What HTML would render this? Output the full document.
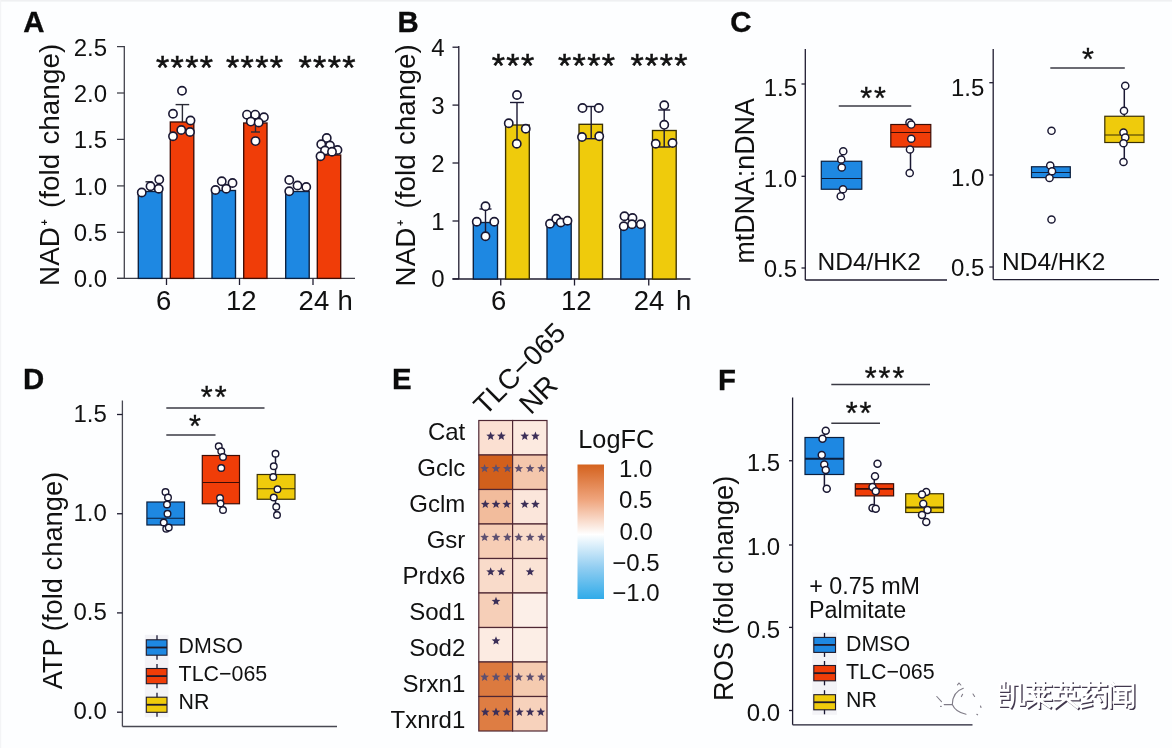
<!DOCTYPE html>
<html><head><meta charset="utf-8"><title>figure</title>
<style>html,body{margin:0;padding:0;background:#fdfeff;overflow:hidden;width:1172px;height:748px}svg{display:block;filter:blur(0.35px)}text{font-family:"Liberation Sans",sans-serif;}</style></head>
<body><svg width="1172" height="748" viewBox="0 0 1172 748">
<rect width="1172" height="748" fill="#fdfeff"/><rect width="1172" height="1.6" fill="#eff0f2"/><rect width="1.2" height="748" fill="#f3f4f6"/>
<text transform="translate(23.3,32.0) scale(0.97,1)" font-size="30.3" font-weight="bold" fill="#0b0b0b" stroke="#0b0b0b" stroke-width="0.35">A</text>
<text transform="translate(58.8,43.8) rotate(-90)" font-size="27.9" text-anchor="end" fill="#111">NAD<tspan font-size="10.5" font-weight="bold" dy="-11" dx="1.5">+</tspan><tspan dy="11" dx="3.6"> (fold</tspan><tspan dx="1.5"> change)</tspan></text>
<line x1="124.3" y1="46" x2="124.3" y2="278.4" stroke="#3c3c46" stroke-width="1.25"/>
<line x1="117" y1="278.4" x2="355" y2="278.4" stroke="#3c3c46" stroke-width="1.25"/>
<line x1="117" y1="46.6" x2="124.3" y2="46.6" stroke="#3c3c46" stroke-width="1.25"/>
<text x="107" y="55.592" font-size="24" text-anchor="end" font-weight="normal" fill="#111" >2.5</text>
<line x1="117" y1="93" x2="124.3" y2="93" stroke="#3c3c46" stroke-width="1.25"/>
<text x="107" y="101.992" font-size="24" text-anchor="end" font-weight="normal" fill="#111" >2.0</text>
<line x1="117" y1="139.4" x2="124.3" y2="139.4" stroke="#3c3c46" stroke-width="1.25"/>
<text x="107" y="148.392" font-size="24" text-anchor="end" font-weight="normal" fill="#111" >1.5</text>
<line x1="117" y1="185.9" x2="124.3" y2="185.9" stroke="#3c3c46" stroke-width="1.25"/>
<text x="107" y="194.892" font-size="24" text-anchor="end" font-weight="normal" fill="#111" >1.0</text>
<line x1="117" y1="232.3" x2="124.3" y2="232.3" stroke="#3c3c46" stroke-width="1.25"/>
<text x="107" y="241.29200000000003" font-size="24" text-anchor="end" font-weight="normal" fill="#111" >0.5</text>
<line x1="117" y1="278.4" x2="124.3" y2="278.4" stroke="#3c3c46" stroke-width="1.25"/>
<text x="107" y="287.39199999999994" font-size="24" text-anchor="end" font-weight="normal" fill="#111" >0.0</text>
<line x1="166.5" y1="278.4" x2="166.5" y2="285" stroke="#1f1c30" stroke-width="1.3"/>
<line x1="239.5" y1="278.4" x2="239.5" y2="285" stroke="#1f1c30" stroke-width="1.3"/>
<line x1="313" y1="278.4" x2="313" y2="285" stroke="#1f1c30" stroke-width="1.3"/>
<text x="163.7" y="310.2" font-size="27.5" text-anchor="middle" font-weight="normal" fill="#111" >6</text>
<text x="241.2" y="310.2" font-size="27.5" text-anchor="middle" font-weight="normal" fill="#111" >12</text>
<text x="298.6" y="310.2" font-size="27.5" text-anchor="start" font-weight="normal" fill="#111" >24</text>
<text x="337.5" y="310.2" font-size="27.5" text-anchor="start" font-weight="normal" fill="#111" >h</text>
<rect x="138.3" y="191.5" width="23.69999999999999" height="86.89999999999998" fill="#1E88E2" stroke="#0c1f3d" stroke-width="1.35"/>
<rect x="170.3" y="122" width="23.5" height="156.39999999999998" fill="#F03D08" stroke="#3d0d06" stroke-width="1.35"/>
<rect x="212" y="190.5" width="23.5" height="87.89999999999998" fill="#1E88E2" stroke="#0c1f3d" stroke-width="1.35"/>
<rect x="243.7" y="123" width="23.30000000000001" height="155.39999999999998" fill="#F03D08" stroke="#3d0d06" stroke-width="1.35"/>
<rect x="285.7" y="191.5" width="23.5" height="86.89999999999998" fill="#1E88E2" stroke="#0c1f3d" stroke-width="1.35"/>
<rect x="317.3" y="155" width="23.399999999999977" height="123.39999999999998" fill="#F03D08" stroke="#3d0d06" stroke-width="1.35"/>
<line x1="182.4" y1="104.6" x2="182.4" y2="122" stroke="#2a2a35" stroke-width="1.4"/>
<line x1="175.6" y1="104.6" x2="189.20000000000002" y2="104.6" stroke="#2a2a35" stroke-width="1.4"/>
<line x1="255.5" y1="114" x2="255.5" y2="132" stroke="#2a2a35" stroke-width="1.4"/>
<line x1="251.0" y1="114" x2="260.0" y2="114" stroke="#2a2a35" stroke-width="1.4"/>
<line x1="251.0" y1="132" x2="260.0" y2="132" stroke="#2a2a35" stroke-width="1.4"/>
<line x1="149" y1="181.8" x2="149" y2="191" stroke="#2a2a35" stroke-width="1.4"/>
<line x1="145.5" y1="181.8" x2="152.5" y2="181.8" stroke="#2a2a35" stroke-width="1.4"/>
<circle cx="182" cy="90.75" r="4.15" fill="#fff" stroke="#1a1833" stroke-width="1.6"/>
<circle cx="173" cy="113.75" r="4.15" fill="#fff" stroke="#1a1833" stroke-width="1.6"/>
<circle cx="190.5" cy="120.5" r="4.15" fill="#fff" stroke="#1a1833" stroke-width="1.6"/>
<circle cx="181.25" cy="130" r="4.15" fill="#fff" stroke="#1a1833" stroke-width="1.6"/>
<circle cx="173" cy="136.25" r="4.15" fill="#fff" stroke="#1a1833" stroke-width="1.6"/>
<circle cx="190" cy="132" r="4.15" fill="#fff" stroke="#1a1833" stroke-width="1.6"/>
<circle cx="247" cy="114.7" r="4.15" fill="#fff" stroke="#1a1833" stroke-width="1.6"/>
<circle cx="255.2" cy="114.7" r="4.15" fill="#fff" stroke="#1a1833" stroke-width="1.6"/>
<circle cx="263.9" cy="117.3" r="4.15" fill="#fff" stroke="#1a1833" stroke-width="1.6"/>
<circle cx="250.8" cy="121.6" r="4.15" fill="#fff" stroke="#1a1833" stroke-width="1.6"/>
<circle cx="258.7" cy="122.5" r="4.15" fill="#fff" stroke="#1a1833" stroke-width="1.6"/>
<circle cx="255.5" cy="141.1" r="4.15" fill="#fff" stroke="#1a1833" stroke-width="1.6"/>
<circle cx="326.75" cy="138" r="4.15" fill="#fff" stroke="#1a1833" stroke-width="1.6"/>
<circle cx="321.25" cy="144.25" r="4.15" fill="#fff" stroke="#1a1833" stroke-width="1.6"/>
<circle cx="330" cy="145.5" r="4.15" fill="#fff" stroke="#1a1833" stroke-width="1.6"/>
<circle cx="337.5" cy="150" r="4.15" fill="#fff" stroke="#1a1833" stroke-width="1.6"/>
<circle cx="325" cy="150.5" r="4.15" fill="#fff" stroke="#1a1833" stroke-width="1.6"/>
<circle cx="320.5" cy="156.25" r="4.15" fill="#fff" stroke="#1a1833" stroke-width="1.6"/>
<circle cx="332" cy="151.75" r="4.15" fill="#fff" stroke="#1a1833" stroke-width="1.6"/>
<circle cx="159.25" cy="179.5" r="4.15" fill="#fff" stroke="#1a1833" stroke-width="1.6"/>
<circle cx="150.5" cy="186.25" r="4.15" fill="#fff" stroke="#1a1833" stroke-width="1.6"/>
<circle cx="141.75" cy="192.5" r="4.15" fill="#fff" stroke="#1a1833" stroke-width="1.6"/>
<circle cx="158.75" cy="188.75" r="4.15" fill="#fff" stroke="#1a1833" stroke-width="1.6"/>
<circle cx="221.75" cy="181.25" r="4.15" fill="#fff" stroke="#1a1833" stroke-width="1.6"/>
<circle cx="232.5" cy="183" r="4.15" fill="#fff" stroke="#1a1833" stroke-width="1.6"/>
<circle cx="215.5" cy="190" r="4.15" fill="#fff" stroke="#1a1833" stroke-width="1.6"/>
<circle cx="226.25" cy="188.75" r="4.15" fill="#fff" stroke="#1a1833" stroke-width="1.6"/>
<circle cx="289.25" cy="180" r="4.15" fill="#fff" stroke="#1a1833" stroke-width="1.6"/>
<circle cx="297.5" cy="185.5" r="4.15" fill="#fff" stroke="#1a1833" stroke-width="1.6"/>
<circle cx="306.25" cy="187" r="4.15" fill="#fff" stroke="#1a1833" stroke-width="1.6"/>
<circle cx="289.25" cy="191.25" r="4.15" fill="#fff" stroke="#1a1833" stroke-width="1.6"/>
<text x="185.2" y="78.9" font-size="34" text-anchor="middle" font-weight="normal" fill="#111" letter-spacing="1.4" stroke="#111" stroke-width="0.5">****</text>
<text x="255.2" y="78.9" font-size="34" text-anchor="middle" font-weight="normal" fill="#111" letter-spacing="1.4" stroke="#111" stroke-width="0.5">****</text>
<text x="327.7" y="78.9" font-size="34" text-anchor="middle" font-weight="normal" fill="#111" letter-spacing="1.4" stroke="#111" stroke-width="0.5">****</text>
<text transform="translate(397.6,32.0) scale(0.97,1)" font-size="30.3" font-weight="bold" fill="#0b0b0b" stroke="#0b0b0b" stroke-width="0.35">B</text>
<text transform="translate(414.9,44.3) rotate(-90)" font-size="27.9" text-anchor="end" fill="#111">NAD<tspan font-size="10.5" font-weight="bold" dy="-11" dx="1.5">+</tspan><tspan dy="11" dx="3.6"> (fold</tspan><tspan dx="1.5"> change)</tspan></text>
<line x1="458.8" y1="46" x2="458.8" y2="279" stroke="#1f1c30" stroke-width="1.3"/>
<line x1="452.5" y1="279" x2="690.5" y2="279" stroke="#1f1c30" stroke-width="1.3"/>
<line x1="452.5" y1="47.2" x2="458.8" y2="47.2" stroke="#1f1c30" stroke-width="1.3"/>
<text x="444.5" y="55.792" font-size="24" text-anchor="end" font-weight="normal" fill="#111" >4</text>
<line x1="452.5" y1="105.1" x2="458.8" y2="105.1" stroke="#1f1c30" stroke-width="1.3"/>
<text x="444.5" y="113.692" font-size="24" text-anchor="end" font-weight="normal" fill="#111" >3</text>
<line x1="452.5" y1="163" x2="458.8" y2="163" stroke="#1f1c30" stroke-width="1.3"/>
<text x="444.5" y="171.59199999999998" font-size="24" text-anchor="end" font-weight="normal" fill="#111" >2</text>
<line x1="452.5" y1="221" x2="458.8" y2="221" stroke="#1f1c30" stroke-width="1.3"/>
<text x="444.5" y="229.59199999999998" font-size="24" text-anchor="end" font-weight="normal" fill="#111" >1</text>
<line x1="452.5" y1="278.9" x2="458.8" y2="278.9" stroke="#1f1c30" stroke-width="1.3"/>
<text x="444.5" y="287.49199999999996" font-size="24" text-anchor="end" font-weight="normal" fill="#111" >0</text>
<line x1="500.75" y1="279" x2="500.75" y2="285.5" stroke="#1f1c30" stroke-width="1.3"/>
<line x1="574.5" y1="279" x2="574.5" y2="285.5" stroke="#1f1c30" stroke-width="1.3"/>
<line x1="648.75" y1="279" x2="648.75" y2="285.5" stroke="#1f1c30" stroke-width="1.3"/>
<text x="498.6" y="310.4" font-size="27.5" text-anchor="middle" font-weight="normal" fill="#111" >6</text>
<text x="576.3" y="310.4" font-size="27.5" text-anchor="middle" font-weight="normal" fill="#111" >12</text>
<text x="633.8" y="310.4" font-size="27.5" text-anchor="start" font-weight="normal" fill="#111" >24</text>
<text x="676" y="310.4" font-size="27.5" text-anchor="start" font-weight="normal" fill="#111" >h</text>
<rect x="473.3" y="222.5" width="24.19999999999999" height="56.5" fill="#1E88E2" stroke="#0c1f3d" stroke-width="1.35"/>
<rect x="505.6" y="125" width="23.699999999999932" height="154" fill="#EFCB0C" stroke="#3a3004" stroke-width="1.35"/>
<rect x="547" y="223.7" width="24.200000000000045" height="55.30000000000001" fill="#1E88E2" stroke="#0c1f3d" stroke-width="1.35"/>
<rect x="579" y="124.3" width="23.5" height="154.7" fill="#EFCB0C" stroke="#3a3004" stroke-width="1.35"/>
<rect x="620.8" y="225" width="24.200000000000045" height="54" fill="#1E88E2" stroke="#0c1f3d" stroke-width="1.35"/>
<rect x="652.5" y="130.5" width="23.700000000000045" height="148.5" fill="#EFCB0C" stroke="#3a3004" stroke-width="1.35"/>
<line x1="517" y1="102.5" x2="517" y2="146" stroke="#1a1833" stroke-width="1.4"/>
<line x1="510" y1="102.5" x2="524" y2="102.5" stroke="#1a1833" stroke-width="1.4"/>
<line x1="591.2" y1="106.5" x2="591.2" y2="138.7" stroke="#1a1833" stroke-width="1.4"/>
<line x1="585.2" y1="106.5" x2="597.2" y2="106.5" stroke="#1a1833" stroke-width="1.4"/>
<line x1="585.2" y1="138.7" x2="597.2" y2="138.7" stroke="#1a1833" stroke-width="1.4"/>
<line x1="664.2" y1="110" x2="664.2" y2="147" stroke="#1a1833" stroke-width="1.4"/>
<line x1="658.2" y1="110" x2="670.2" y2="110" stroke="#1a1833" stroke-width="1.4"/>
<line x1="658.2" y1="147" x2="670.2" y2="147" stroke="#1a1833" stroke-width="1.4"/>
<line x1="485.5" y1="209" x2="485.5" y2="235" stroke="#1a1833" stroke-width="1.4"/>
<line x1="479.5" y1="209" x2="491.5" y2="209" stroke="#1a1833" stroke-width="1.4"/>
<circle cx="517" cy="95" r="4.15" fill="#fff" stroke="#1a1833" stroke-width="1.6"/>
<circle cx="508.75" cy="123.25" r="4.15" fill="#fff" stroke="#1a1833" stroke-width="1.6"/>
<circle cx="525.75" cy="128.75" r="4.15" fill="#fff" stroke="#1a1833" stroke-width="1.6"/>
<circle cx="516.75" cy="143.75" r="4.15" fill="#fff" stroke="#1a1833" stroke-width="1.6"/>
<circle cx="582.5" cy="108" r="4.15" fill="#fff" stroke="#1a1833" stroke-width="1.6"/>
<circle cx="598.75" cy="108" r="4.15" fill="#fff" stroke="#1a1833" stroke-width="1.6"/>
<circle cx="582" cy="137" r="4.15" fill="#fff" stroke="#1a1833" stroke-width="1.6"/>
<circle cx="599.25" cy="136.25" r="4.15" fill="#fff" stroke="#1a1833" stroke-width="1.6"/>
<circle cx="664.25" cy="105.3" r="4.15" fill="#fff" stroke="#1a1833" stroke-width="1.6"/>
<circle cx="664.25" cy="124.8" r="4.15" fill="#fff" stroke="#1a1833" stroke-width="1.6"/>
<circle cx="655.75" cy="143.75" r="4.15" fill="#fff" stroke="#1a1833" stroke-width="1.6"/>
<circle cx="672.5" cy="143" r="4.15" fill="#fff" stroke="#1a1833" stroke-width="1.6"/>
<circle cx="485.5" cy="206.25" r="4.15" fill="#fff" stroke="#1a1833" stroke-width="1.6"/>
<circle cx="476.75" cy="221.75" r="4.15" fill="#fff" stroke="#1a1833" stroke-width="1.6"/>
<circle cx="494.25" cy="221.75" r="4.15" fill="#fff" stroke="#1a1833" stroke-width="1.6"/>
<circle cx="485.5" cy="236.25" r="4.15" fill="#fff" stroke="#1a1833" stroke-width="1.6"/>
<circle cx="550" cy="223.75" r="4.15" fill="#fff" stroke="#1a1833" stroke-width="1.6"/>
<circle cx="556.25" cy="218.75" r="4.15" fill="#fff" stroke="#1a1833" stroke-width="1.6"/>
<circle cx="560.75" cy="222.5" r="4.15" fill="#fff" stroke="#1a1833" stroke-width="1.6"/>
<circle cx="567.5" cy="220.75" r="4.15" fill="#fff" stroke="#1a1833" stroke-width="1.6"/>
<circle cx="624.5" cy="216.25" r="4.15" fill="#fff" stroke="#1a1833" stroke-width="1.6"/>
<circle cx="632.5" cy="218" r="4.15" fill="#fff" stroke="#1a1833" stroke-width="1.6"/>
<circle cx="623.75" cy="226.25" r="4.15" fill="#fff" stroke="#1a1833" stroke-width="1.6"/>
<circle cx="632" cy="224.25" r="4.15" fill="#fff" stroke="#1a1833" stroke-width="1.6"/>
<circle cx="640.75" cy="224.25" r="4.15" fill="#fff" stroke="#1a1833" stroke-width="1.6"/>
<text x="513.7" y="77" font-size="34" text-anchor="middle" font-weight="normal" fill="#111" letter-spacing="1.4" stroke="#111" stroke-width="0.5">***</text>
<text x="587.2" y="77" font-size="34" text-anchor="middle" font-weight="normal" fill="#111" letter-spacing="1.4" stroke="#111" stroke-width="0.5">****</text>
<text x="659.7" y="77" font-size="34" text-anchor="middle" font-weight="normal" fill="#111" letter-spacing="1.4" stroke="#111" stroke-width="0.5">****</text>
<text transform="translate(730.3,32.0) scale(0.97,1)" font-size="30.3" font-weight="bold" fill="#0b0b0b" stroke="#0b0b0b" stroke-width="0.35">C</text>
<text transform="translate(754,263.5) rotate(-90)" font-size="26.8" text-anchor="start" fill="#111">mtDNA:nDNA</text>
<line x1="805.3" y1="49" x2="805.3" y2="280" stroke="#1f1c30" stroke-width="1.3"/>
<line x1="805.3" y1="280" x2="947" y2="280" stroke="#1f1c30" stroke-width="1.3"/>
<line x1="801.5" y1="84" x2="805.3" y2="84" stroke="#1f1c30" stroke-width="1.3"/>
<text x="797" y="95.592" font-size="24" text-anchor="end" font-weight="normal" fill="#111" >1.5</text>
<line x1="801.5" y1="176.3" x2="805.3" y2="176.3" stroke="#1f1c30" stroke-width="1.3"/>
<text x="797" y="187.192" font-size="24" text-anchor="end" font-weight="normal" fill="#111" >1.0</text>
<line x1="801.5" y1="268" x2="805.3" y2="268" stroke="#1f1c30" stroke-width="1.3"/>
<text x="797" y="277.192" font-size="24" text-anchor="end" font-weight="normal" fill="#111" >0.5</text>
<line x1="841.8" y1="151" x2="841.8" y2="196" stroke="#1a1833" stroke-width="1.5"/>
<rect x="821.3" y="161.25" width="40.5" height="28.0" fill="#1E88E2" stroke="#0c1f3d" stroke-width="1.2"/>
<line x1="821.3" y1="178.5" x2="861.8" y2="178.5" stroke="#0c1f3d" stroke-width="1.2"/>
<line x1="910.5" y1="122" x2="910.5" y2="173" stroke="#1a1833" stroke-width="1.5"/>
<rect x="890.8" y="124.5" width="40.0" height="22.5" fill="#F03D08" stroke="#3d0d06" stroke-width="1.2"/>
<line x1="890.8" y1="132.5" x2="930.8" y2="132.5" stroke="#3d0d06" stroke-width="1.2"/>
<circle cx="843.25" cy="151.25" r="3.6" fill="#fff" stroke="#1a1833" stroke-width="1.45"/>
<circle cx="841.25" cy="159.5" r="3.6" fill="#fff" stroke="#1a1833" stroke-width="1.45"/>
<circle cx="841.75" cy="167.5" r="3.6" fill="#fff" stroke="#1a1833" stroke-width="1.45"/>
<circle cx="843" cy="189.25" r="3.6" fill="#fff" stroke="#1a1833" stroke-width="1.45"/>
<circle cx="840.75" cy="196.25" r="3.6" fill="#fff" stroke="#1a1833" stroke-width="1.45"/>
<circle cx="909.5" cy="122.5" r="3.6" fill="#fff" stroke="#1a1833" stroke-width="1.45"/>
<circle cx="911.25" cy="124.5" r="3.6" fill="#fff" stroke="#1a1833" stroke-width="1.45"/>
<circle cx="911.25" cy="138.75" r="3.6" fill="#fff" stroke="#1a1833" stroke-width="1.45"/>
<circle cx="910" cy="149.5" r="3.6" fill="#fff" stroke="#1a1833" stroke-width="1.45"/>
<circle cx="909.7" cy="173" r="3.6" fill="#fff" stroke="#1a1833" stroke-width="1.45"/>
<line x1="838.75" y1="106" x2="911.25" y2="106" stroke="#3a3a44" stroke-width="1.4"/>
<text x="874.0" y="109.2" font-size="30.5" text-anchor="middle" font-weight="normal" fill="#111" letter-spacing="2" stroke="#111" stroke-width="0.35">**</text>
<text x="817.5" y="269.8" font-size="24.5" text-anchor="start" font-weight="normal" fill="#111" >ND4/HK2</text>
<line x1="993.2" y1="49" x2="993.2" y2="279.6" stroke="#1f1c30" stroke-width="1.3"/>
<line x1="993.2" y1="279.6" x2="1159" y2="279.6" stroke="#1f1c30" stroke-width="1.3"/>
<line x1="989.3" y1="82.7" x2="993.2" y2="82.7" stroke="#1f1c30" stroke-width="1.3"/>
<text x="984.3" y="95.592" font-size="24" text-anchor="end" font-weight="normal" fill="#111" >1.5</text>
<line x1="989.3" y1="175" x2="993.2" y2="175" stroke="#1f1c30" stroke-width="1.3"/>
<text x="984.3" y="185.892" font-size="24" text-anchor="end" font-weight="normal" fill="#111" >1.0</text>
<line x1="989.3" y1="267" x2="993.2" y2="267" stroke="#1f1c30" stroke-width="1.3"/>
<text x="984.3" y="276.092" font-size="24" text-anchor="end" font-weight="normal" fill="#111" >0.5</text>
<rect x="1031.5" y="166.75" width="38.799999999999955" height="10.849999999999994" fill="#1E88E2" stroke="#0c1f3d" stroke-width="1.2"/>
<line x1="1031.5" y1="172.5" x2="1070.3" y2="172.5" stroke="#0c1f3d" stroke-width="1.2"/>
<line x1="1124.3" y1="86" x2="1124.3" y2="162" stroke="#1a1833" stroke-width="1.5"/>
<rect x="1104.8" y="116.25" width="39.200000000000045" height="26.25" fill="#EFCB0C" stroke="#3a3004" stroke-width="1.2"/>
<line x1="1104.8" y1="135" x2="1144" y2="135" stroke="#3a3004" stroke-width="1.2"/>
<circle cx="1051.5" cy="130.75" r="3.6" fill="#fff" stroke="#1a1833" stroke-width="1.45"/>
<circle cx="1050.25" cy="165.5" r="3.6" fill="#fff" stroke="#1a1833" stroke-width="1.45"/>
<circle cx="1052" cy="171.25" r="3.6" fill="#fff" stroke="#1a1833" stroke-width="1.45"/>
<circle cx="1049.5" cy="178" r="3.6" fill="#fff" stroke="#1a1833" stroke-width="1.45"/>
<circle cx="1051.5" cy="219.5" r="3.6" fill="#fff" stroke="#1a1833" stroke-width="1.45"/>
<circle cx="1125.25" cy="85.75" r="3.6" fill="#fff" stroke="#1a1833" stroke-width="1.45"/>
<circle cx="1124" cy="110.75" r="3.6" fill="#fff" stroke="#1a1833" stroke-width="1.45"/>
<circle cx="1123.5" cy="132.5" r="3.6" fill="#fff" stroke="#1a1833" stroke-width="1.45"/>
<circle cx="1125.25" cy="137.5" r="3.6" fill="#fff" stroke="#1a1833" stroke-width="1.45"/>
<circle cx="1123.5" cy="143.25" r="3.6" fill="#fff" stroke="#1a1833" stroke-width="1.45"/>
<circle cx="1123.5" cy="162" r="3.6" fill="#fff" stroke="#1a1833" stroke-width="1.45"/>
<line x1="1050.3" y1="68" x2="1124.8" y2="68" stroke="#3a3a44" stroke-width="1.4"/>
<text x="1088.3" y="70" font-size="30.5" text-anchor="middle" font-weight="normal" fill="#111" letter-spacing="0.6" stroke="#111" stroke-width="0.35">*</text>
<text x="1002" y="269.8" font-size="24.5" text-anchor="start" font-weight="normal" fill="#111" >ND4/HK2</text>
<text transform="translate(22.9,389.0) scale(0.97,1)" font-size="30.3" font-weight="bold" fill="#0b0b0b" stroke="#0b0b0b" stroke-width="0.35">D</text>
<text transform="translate(62,471.8) rotate(-90)" font-size="27.3" text-anchor="end" fill="#111">ATP (fold change)</text>
<line x1="122.4" y1="400.5" x2="122.4" y2="726.5" stroke="#484852" stroke-width="1.3"/>
<line x1="122.4" y1="726.5" x2="337" y2="726.5" stroke="#484852" stroke-width="1.3"/>
<line x1="117" y1="414.5" x2="122.4" y2="414.5" stroke="#1f1c30" stroke-width="1.3"/>
<text x="106.9" y="421.692" font-size="24" text-anchor="end" font-weight="normal" fill="#111" >1.5</text>
<line x1="117" y1="513.75" x2="122.4" y2="513.75" stroke="#1f1c30" stroke-width="1.3"/>
<text x="106.9" y="520.942" font-size="24" text-anchor="end" font-weight="normal" fill="#111" >1.0</text>
<line x1="117" y1="612.9" x2="122.4" y2="612.9" stroke="#1f1c30" stroke-width="1.3"/>
<text x="106.9" y="620.092" font-size="24" text-anchor="end" font-weight="normal" fill="#111" >0.5</text>
<line x1="117" y1="712.2" x2="122.4" y2="712.2" stroke="#1f1c30" stroke-width="1.3"/>
<text x="106.9" y="719.392" font-size="24" text-anchor="end" font-weight="normal" fill="#111" >0.0</text>
<line x1="167" y1="492" x2="167" y2="528" stroke="#1a1833" stroke-width="1.5"/>
<rect x="146.9" y="502" width="37.599999999999994" height="23" fill="#1E88E2" stroke="#0c1f3d" stroke-width="1.2"/>
<line x1="146.9" y1="518.25" x2="184.5" y2="518.25" stroke="#0c1f3d" stroke-width="1.2"/>
<line x1="221" y1="446" x2="221" y2="510" stroke="#1a1833" stroke-width="1.5"/>
<rect x="202.3" y="455.5" width="37.19999999999999" height="48.25" fill="#F03D08" stroke="#3d0d06" stroke-width="1.2"/>
<line x1="202.3" y1="482.5" x2="239.5" y2="482.5" stroke="#3d0d06" stroke-width="1.2"/>
<line x1="275.5" y1="454" x2="275.5" y2="515" stroke="#1a1833" stroke-width="1.5"/>
<rect x="257.2" y="474.5" width="37.80000000000001" height="24.75" fill="#EFCB0C" stroke="#3a3004" stroke-width="1.2"/>
<line x1="257.2" y1="488.75" x2="295" y2="488.75" stroke="#3a3004" stroke-width="1.2"/>
<circle cx="165.5" cy="492" r="3.3" fill="#fff" stroke="#1a1833" stroke-width="1.4"/>
<circle cx="168" cy="497.5" r="3.3" fill="#fff" stroke="#1a1833" stroke-width="1.4"/>
<circle cx="167" cy="504.5" r="3.3" fill="#fff" stroke="#1a1833" stroke-width="1.4"/>
<circle cx="167.5" cy="513.75" r="3.3" fill="#fff" stroke="#1a1833" stroke-width="1.4"/>
<circle cx="163.75" cy="522.5" r="3.3" fill="#fff" stroke="#1a1833" stroke-width="1.4"/>
<circle cx="166.25" cy="528.75" r="3.3" fill="#fff" stroke="#1a1833" stroke-width="1.4"/>
<circle cx="168.75" cy="527.5" r="3.3" fill="#fff" stroke="#1a1833" stroke-width="1.4"/>
<circle cx="218.75" cy="446.25" r="3.3" fill="#fff" stroke="#1a1833" stroke-width="1.4"/>
<circle cx="221.25" cy="451.25" r="3.3" fill="#fff" stroke="#1a1833" stroke-width="1.4"/>
<circle cx="223" cy="457" r="3.3" fill="#fff" stroke="#1a1833" stroke-width="1.4"/>
<circle cx="221.25" cy="468" r="3.3" fill="#fff" stroke="#1a1833" stroke-width="1.4"/>
<circle cx="220" cy="498" r="3.3" fill="#fff" stroke="#1a1833" stroke-width="1.4"/>
<circle cx="220.5" cy="503.5" r="3.3" fill="#fff" stroke="#1a1833" stroke-width="1.4"/>
<circle cx="223" cy="510" r="3.3" fill="#fff" stroke="#1a1833" stroke-width="1.4"/>
<circle cx="275.5" cy="453.75" r="3.3" fill="#fff" stroke="#1a1833" stroke-width="1.4"/>
<circle cx="273.75" cy="466.25" r="3.3" fill="#fff" stroke="#1a1833" stroke-width="1.4"/>
<circle cx="273.25" cy="477" r="3.3" fill="#fff" stroke="#1a1833" stroke-width="1.4"/>
<circle cx="277.5" cy="489.25" r="3.3" fill="#fff" stroke="#1a1833" stroke-width="1.4"/>
<circle cx="273.75" cy="497.5" r="3.3" fill="#fff" stroke="#1a1833" stroke-width="1.4"/>
<circle cx="276.25" cy="506.75" r="3.3" fill="#fff" stroke="#1a1833" stroke-width="1.4"/>
<circle cx="277" cy="515" r="3.3" fill="#fff" stroke="#1a1833" stroke-width="1.4"/>
<line x1="166.3" y1="408" x2="264.5" y2="408" stroke="#3a3a44" stroke-width="1.4"/>
<text x="214.7" y="408" font-size="30.5" text-anchor="middle" font-weight="normal" fill="#111" letter-spacing="2" stroke="#111" stroke-width="0.35">**</text>
<line x1="166.3" y1="435" x2="215.5" y2="435" stroke="#3a3a44" stroke-width="1.4"/>
<text x="195.3" y="437.3" font-size="30.5" text-anchor="middle" font-weight="normal" fill="#111" letter-spacing="0.6" stroke="#111" stroke-width="0.35">*</text>
<rect x="144.8" y="634.8" width="23.69999999999999" height="82.5" fill="#f3f3f7"/>
<line x1="157" y1="635.3" x2="157" y2="659.7" stroke="#1a1833" stroke-width="1.3"/>
<rect x="146.3" y="639.8" width="20.69999999999999" height="15.400000000000091" fill="#1E88E2" stroke="#1f1a2a" stroke-width="1.1"/>
<line x1="146.3" y1="647.5" x2="167" y2="647.5" stroke="#1f1a2a" stroke-width="1.8"/>
<text transform="translate(178.6,653) scale(0.955,1)" font-size="22.41" fill="#111">DMSO</text>
<line x1="157" y1="664.0" x2="157" y2="688.2" stroke="#1a1833" stroke-width="1.3"/>
<rect x="146.3" y="668.5" width="20.69999999999999" height="15.200000000000045" fill="#F03D08" stroke="#1f1a2a" stroke-width="1.1"/>
<line x1="146.3" y1="676.1" x2="167" y2="676.1" stroke="#1f1a2a" stroke-width="1.8"/>
<text transform="translate(178.6,680.8) scale(0.955,1)" font-size="22.41" fill="#111">TLC−065</text>
<line x1="157" y1="692.7" x2="157" y2="716.8" stroke="#1a1833" stroke-width="1.3"/>
<rect x="146.3" y="697.2" width="20.69999999999999" height="15.099999999999909" fill="#EFCB0C" stroke="#1f1a2a" stroke-width="1.1"/>
<line x1="146.3" y1="704.75" x2="167" y2="704.75" stroke="#1f1a2a" stroke-width="1.8"/>
<text transform="translate(178.6,709.3) scale(0.955,1)" font-size="22.41" fill="#111">NR</text>
<text transform="translate(392.1,389.0) scale(0.97,1)" font-size="30.3" font-weight="bold" fill="#0b0b0b" stroke="#0b0b0b" stroke-width="0.35">E</text>
<rect x="478.8" y="420.5" width="33.80000000000001" height="34.5" fill="#FBE0D2" stroke="#4f2733" stroke-width="1.2"/>
<rect x="512.6" y="420.5" width="34.39999999999998" height="34.5" fill="#FCEAE0" stroke="#4f2733" stroke-width="1.2"/>
<text x="465.3" y="439.5" font-size="24" text-anchor="end" font-weight="normal" fill="#111" >Cat</text>
<polygon points="490.65,431.60 491.83,434.58 495.02,434.78 492.55,436.82 493.35,439.92 490.65,438.20 487.95,439.92 488.75,436.82 486.28,434.78 489.47,434.58" fill="#3c2f58"/>
<polygon points="501.35,431.60 502.53,434.58 505.72,434.78 503.25,436.82 504.05,439.92 501.35,438.20 498.65,439.92 499.45,436.82 496.98,434.78 500.17,434.58" fill="#3c2f58"/>
<polygon points="524.75,431.60 525.93,434.58 529.12,434.78 526.65,436.82 527.45,439.92 524.75,438.20 522.05,439.92 522.85,436.82 520.38,434.78 523.57,434.58" fill="#3c2f58"/>
<polygon points="535.45,431.60 536.63,434.58 539.82,434.78 537.35,436.82 538.15,439.92 535.45,438.20 532.75,439.92 533.55,436.82 531.08,434.78 534.27,434.58" fill="#3c2f58"/>
<rect x="478.8" y="455.0" width="33.80000000000001" height="34.5" fill="#D2601C" stroke="#4f2733" stroke-width="1.2"/>
<rect x="512.6" y="455.0" width="34.39999999999998" height="34.5" fill="#F4C7AC" stroke="#4f2733" stroke-width="1.2"/>
<text x="465.3" y="475.6" font-size="24" text-anchor="end" font-weight="normal" fill="#111" >Gclc</text>
<polygon points="484.60,464.00 485.78,466.98 488.97,467.18 486.50,469.22 487.30,472.32 484.60,470.60 481.90,472.32 482.70,469.22 480.23,467.18 483.42,466.98" fill="#5d4f70"/>
<polygon points="496.00,464.00 497.18,466.98 500.37,467.18 497.90,469.22 498.70,472.32 496.00,470.60 493.30,472.32 494.10,469.22 491.63,467.18 494.82,466.98" fill="#5d4f70"/>
<polygon points="507.40,464.00 508.58,466.98 511.77,467.18 509.30,469.22 510.10,472.32 507.40,470.60 504.70,472.32 505.50,469.22 503.03,467.18 506.22,466.98" fill="#5d4f70"/>
<polygon points="518.70,464.00 519.88,466.98 523.07,467.18 520.60,469.22 521.40,472.32 518.70,470.60 516.00,472.32 516.80,469.22 514.33,467.18 517.52,466.98" fill="#5d4f70"/>
<polygon points="530.10,464.00 531.28,466.98 534.47,467.18 532.00,469.22 532.80,472.32 530.10,470.60 527.40,472.32 528.20,469.22 525.73,467.18 528.92,466.98" fill="#5d4f70"/>
<polygon points="541.50,464.00 542.68,466.98 545.87,467.18 543.40,469.22 544.20,472.32 541.50,470.60 538.80,472.32 539.60,469.22 537.13,467.18 540.32,466.98" fill="#5d4f70"/>
<rect x="478.8" y="489.5" width="33.80000000000001" height="34.5" fill="#F2BC9C" stroke="#4f2733" stroke-width="1.2"/>
<rect x="512.6" y="489.5" width="34.39999999999998" height="34.5" fill="#FBE6DB" stroke="#4f2733" stroke-width="1.2"/>
<text x="465.3" y="511.7" font-size="24" text-anchor="end" font-weight="normal" fill="#111" >Gclm</text>
<polygon points="485.30,499.70 486.48,502.68 489.67,502.88 487.20,504.92 488.00,508.02 485.30,506.30 482.60,508.02 483.40,504.92 480.93,502.88 484.12,502.68" fill="#3c2f58"/>
<polygon points="496.00,499.70 497.18,502.68 500.37,502.88 497.90,504.92 498.70,508.02 496.00,506.30 493.30,508.02 494.10,504.92 491.63,502.88 494.82,502.68" fill="#3c2f58"/>
<polygon points="506.70,499.70 507.88,502.68 511.07,502.88 508.60,504.92 509.40,508.02 506.70,506.30 504.00,508.02 504.80,504.92 502.33,502.88 505.52,502.68" fill="#3c2f58"/>
<polygon points="524.75,499.70 525.93,502.68 529.12,502.88 526.65,504.92 527.45,508.02 524.75,506.30 522.05,508.02 522.85,504.92 520.38,502.88 523.57,502.68" fill="#3c2f58"/>
<polygon points="535.45,499.70 536.63,502.68 539.82,502.88 537.35,504.92 538.15,508.02 535.45,506.30 532.75,508.02 533.55,504.92 531.08,502.88 534.27,502.68" fill="#3c2f58"/>
<rect x="478.8" y="524.0" width="33.80000000000001" height="34.5" fill="#F6CDB5" stroke="#4f2733" stroke-width="1.2"/>
<rect x="512.6" y="524.0" width="34.39999999999998" height="34.5" fill="#F9DCCB" stroke="#4f2733" stroke-width="1.2"/>
<text x="465.3" y="547.8" font-size="24" text-anchor="end" font-weight="normal" fill="#111" >Gsr</text>
<polygon points="484.60,532.80 485.78,535.78 488.97,535.98 486.50,538.02 487.30,541.12 484.60,539.40 481.90,541.12 482.70,538.02 480.23,535.98 483.42,535.78" fill="#5d4f70"/>
<polygon points="496.00,532.80 497.18,535.78 500.37,535.98 497.90,538.02 498.70,541.12 496.00,539.40 493.30,541.12 494.10,538.02 491.63,535.98 494.82,535.78" fill="#5d4f70"/>
<polygon points="507.40,532.80 508.58,535.78 511.77,535.98 509.30,538.02 510.10,541.12 507.40,539.40 504.70,541.12 505.50,538.02 503.03,535.98 506.22,535.78" fill="#5d4f70"/>
<polygon points="518.70,532.80 519.88,535.78 523.07,535.98 520.60,538.02 521.40,541.12 518.70,539.40 516.00,541.12 516.80,538.02 514.33,535.98 517.52,535.78" fill="#5d4f70"/>
<polygon points="530.10,532.80 531.28,535.78 534.47,535.98 532.00,538.02 532.80,541.12 530.10,539.40 527.40,541.12 528.20,538.02 525.73,535.98 528.92,535.78" fill="#5d4f70"/>
<polygon points="541.50,532.80 542.68,535.78 545.87,535.98 543.40,538.02 544.20,541.12 541.50,539.40 538.80,541.12 539.60,538.02 537.13,535.98 540.32,535.78" fill="#5d4f70"/>
<rect x="478.8" y="558.5" width="33.80000000000001" height="34.5" fill="#F9DBCA" stroke="#4f2733" stroke-width="1.2"/>
<rect x="512.6" y="558.5" width="34.39999999999998" height="34.5" fill="#FAE3D5" stroke="#4f2733" stroke-width="1.2"/>
<text x="465.3" y="583.9" font-size="24" text-anchor="end" font-weight="normal" fill="#111" >Prdx6</text>
<polygon points="490.65,567.30 491.83,570.28 495.02,570.48 492.55,572.52 493.35,575.62 490.65,573.90 487.95,575.62 488.75,572.52 486.28,570.48 489.47,570.28" fill="#3c2f58"/>
<polygon points="501.35,567.30 502.53,570.28 505.72,570.48 503.25,572.52 504.05,575.62 501.35,573.90 498.65,575.62 499.45,572.52 496.98,570.48 500.17,570.28" fill="#3c2f58"/>
<polygon points="530.10,567.30 531.28,570.28 534.47,570.48 532.00,572.52 532.80,575.62 530.10,573.90 527.40,575.62 528.20,572.52 525.73,570.48 528.92,570.28" fill="#3c2f58"/>
<rect x="478.8" y="593.0" width="33.80000000000001" height="34.5" fill="#F6CFB8" stroke="#4f2733" stroke-width="1.2"/>
<rect x="512.6" y="593.0" width="34.39999999999998" height="34.5" fill="#FCEFE8" stroke="#4f2733" stroke-width="1.2"/>
<text x="465.3" y="620.0" font-size="24" text-anchor="end" font-weight="normal" fill="#111" >Sod1</text>
<polygon points="496.00,596.80 497.18,599.78 500.37,599.98 497.90,602.02 498.70,605.12 496.00,603.40 493.30,605.12 494.10,602.02 491.63,599.98 494.82,599.78" fill="#3c2f58"/>
<rect x="478.8" y="627.5" width="33.80000000000001" height="34.5" fill="#FCEBE2" stroke="#4f2733" stroke-width="1.2"/>
<rect x="512.6" y="627.5" width="34.39999999999998" height="34.5" fill="#FCEEE6" stroke="#4f2733" stroke-width="1.2"/>
<text x="465.3" y="656.1" font-size="24" text-anchor="end" font-weight="normal" fill="#111" >Sod2</text>
<polygon points="496.00,636.30 497.18,639.28 500.37,639.48 497.90,641.52 498.70,644.62 496.00,642.90 493.30,644.62 494.10,641.52 491.63,639.48 494.82,639.28" fill="#3c2f58"/>
<rect x="478.8" y="662.0" width="33.80000000000001" height="34.5" fill="#DC7A3F" stroke="#4f2733" stroke-width="1.2"/>
<rect x="512.6" y="662.0" width="34.39999999999998" height="34.5" fill="#F5CBB0" stroke="#4f2733" stroke-width="1.2"/>
<text x="465.3" y="692.2" font-size="24" text-anchor="end" font-weight="normal" fill="#111" >Srxn1</text>
<polygon points="484.60,672.60 485.78,675.58 488.97,675.78 486.50,677.82 487.30,680.92 484.60,679.20 481.90,680.92 482.70,677.82 480.23,675.78 483.42,675.58" fill="#5d4f70"/>
<polygon points="496.00,672.60 497.18,675.58 500.37,675.78 497.90,677.82 498.70,680.92 496.00,679.20 493.30,680.92 494.10,677.82 491.63,675.78 494.82,675.58" fill="#5d4f70"/>
<polygon points="507.40,672.60 508.58,675.58 511.77,675.78 509.30,677.82 510.10,680.92 507.40,679.20 504.70,680.92 505.50,677.82 503.03,675.78 506.22,675.58" fill="#5d4f70"/>
<polygon points="518.70,672.60 519.88,675.58 523.07,675.78 520.60,677.82 521.40,680.92 518.70,679.20 516.00,680.92 516.80,677.82 514.33,675.78 517.52,675.58" fill="#5d4f70"/>
<polygon points="530.10,672.60 531.28,675.58 534.47,675.78 532.00,677.82 532.80,680.92 530.10,679.20 527.40,680.92 528.20,677.82 525.73,675.78 528.92,675.58" fill="#5d4f70"/>
<polygon points="541.50,672.60 542.68,675.58 545.87,675.78 543.40,677.82 544.20,680.92 541.50,679.20 538.80,680.92 539.60,677.82 537.13,675.78 540.32,675.58" fill="#5d4f70"/>
<rect x="478.8" y="696.5" width="33.80000000000001" height="34.5" fill="#DE7D43" stroke="#4f2733" stroke-width="1.2"/>
<rect x="512.6" y="696.5" width="34.39999999999998" height="34.5" fill="#F7D2BC" stroke="#4f2733" stroke-width="1.2"/>
<text x="465.3" y="728.3" font-size="24" text-anchor="end" font-weight="normal" fill="#111" >Txnrd1</text>
<polygon points="485.30,707.60 486.48,710.58 489.67,710.78 487.20,712.82 488.00,715.92 485.30,714.20 482.60,715.92 483.40,712.82 480.93,710.78 484.12,710.58" fill="#3c2f58"/>
<polygon points="496.00,707.60 497.18,710.58 500.37,710.78 497.90,712.82 498.70,715.92 496.00,714.20 493.30,715.92 494.10,712.82 491.63,710.78 494.82,710.58" fill="#3c2f58"/>
<polygon points="506.70,707.60 507.88,710.58 511.07,710.78 508.60,712.82 509.40,715.92 506.70,714.20 504.00,715.92 504.80,712.82 502.33,710.78 505.52,710.58" fill="#3c2f58"/>
<polygon points="519.40,707.60 520.58,710.58 523.77,710.78 521.30,712.82 522.10,715.92 519.40,714.20 516.70,715.92 517.50,712.82 515.03,710.78 518.22,710.58" fill="#3c2f58"/>
<polygon points="530.10,707.60 531.28,710.58 534.47,710.78 532.00,712.82 532.80,715.92 530.10,714.20 527.40,715.92 528.20,712.82 525.73,710.78 528.92,710.58" fill="#3c2f58"/>
<polygon points="540.80,707.60 541.98,710.58 545.17,710.78 542.70,712.82 543.50,715.92 540.80,714.20 538.10,715.92 538.90,712.82 536.43,710.78 539.62,710.58" fill="#3c2f58"/>
<text transform="translate(485.2,416.4) rotate(-45)" font-size="28" text-anchor="start" fill="#111">TLC−065</text>
<text transform="translate(530.8,415.6) rotate(-45)" font-size="28" text-anchor="start" fill="#111">NR</text>
<text x="578.3" y="448.2" font-size="25.3" text-anchor="start" font-weight="normal" fill="#111" >LogFC</text>
<defs><linearGradient id="cb" x1="0" y1="0" x2="0" y2="1"><stop offset="0" stop-color="#D4621E"/><stop offset="0.26" stop-color="#EFA47C"/><stop offset="0.52" stop-color="#FFFFFF"/><stop offset="0.77" stop-color="#90CDF1"/><stop offset="1" stop-color="#30ABE9"/></linearGradient></defs>
<rect x="577.5" y="464.5" width="26.5" height="134.5" fill="url(#cb)"/>
<text x="619" y="476.8" font-size="24" text-anchor="start" font-weight="normal" fill="#111" >1.0</text>
<text x="619" y="508.2" font-size="24" text-anchor="start" font-weight="normal" fill="#111" >0.5</text>
<text x="619.5" y="539.6" font-size="24" text-anchor="start" font-weight="normal" fill="#111" >0.0</text>
<text x="612.3" y="570.8" font-size="24" text-anchor="start" font-weight="normal" fill="#111" >−0.5</text>
<text x="612.3" y="601.4" font-size="24" text-anchor="start" font-weight="normal" fill="#111" >−1.0</text>
<text transform="translate(718.1,389.5) scale(0.97,1)" font-size="30.3" font-weight="bold" fill="#0b0b0b" stroke="#0b0b0b" stroke-width="0.35">F</text>
<text transform="translate(733,475.8) rotate(-90)" font-size="27.2" text-anchor="end" fill="#111">ROS (fold change)</text>
<line x1="792.6" y1="397.5" x2="792.6" y2="724.8" stroke="#1f1c30" stroke-width="1.3"/>
<line x1="792.6" y1="724.8" x2="972.5" y2="724.8" stroke="#1f1c30" stroke-width="1.3"/>
<line x1="789" y1="460.75" x2="792.6" y2="460.75" stroke="#1f1c30" stroke-width="1.3"/>
<text x="780.2" y="470.942" font-size="24" text-anchor="end" font-weight="normal" fill="#111" >1.5</text>
<line x1="789" y1="545" x2="792.6" y2="545" stroke="#1f1c30" stroke-width="1.3"/>
<text x="780.2" y="555.192" font-size="24" text-anchor="end" font-weight="normal" fill="#111" >1.0</text>
<line x1="789" y1="627.4" x2="792.6" y2="627.4" stroke="#1f1c30" stroke-width="1.3"/>
<text x="780.2" y="637.592" font-size="24" text-anchor="end" font-weight="normal" fill="#111" >0.5</text>
<line x1="789" y1="710.5" x2="792.6" y2="710.5" stroke="#1f1c30" stroke-width="1.3"/>
<text x="780.2" y="720.692" font-size="24" text-anchor="end" font-weight="normal" fill="#111" >0.0</text>
<line x1="824.4" y1="431" x2="824.4" y2="488.5" stroke="#1a1833" stroke-width="1.5"/>
<rect x="805" y="437.5" width="38.799999999999955" height="37.0" fill="#1E88E2" stroke="#0c1f3d" stroke-width="1.2"/>
<line x1="805" y1="458.75" x2="843.8" y2="458.75" stroke="#0c1f3d" stroke-width="2.2"/>
<line x1="874.3" y1="476" x2="874.3" y2="508" stroke="#1a1833" stroke-width="1.5"/>
<rect x="855.3" y="483.75" width="38.30000000000007" height="12.149999999999977" fill="#F03D08" stroke="#3d0d06" stroke-width="1.2"/>
<line x1="855.3" y1="488.8" x2="893.6" y2="488.8" stroke="#3d0d06" stroke-width="1.8"/>
<line x1="924.5" y1="492" x2="924.5" y2="522" stroke="#1a1833" stroke-width="1.5"/>
<rect x="905.7" y="493.75" width="37.89999999999998" height="18.75" fill="#EFCB0C" stroke="#3a3004" stroke-width="1.2"/>
<line x1="905.7" y1="507.5" x2="943.6" y2="507.5" stroke="#3a3004" stroke-width="1.8"/>
<circle cx="825.75" cy="430.75" r="3.5" fill="#fff" stroke="#1a1833" stroke-width="1.5"/>
<circle cx="822.5" cy="438.75" r="3.5" fill="#fff" stroke="#1a1833" stroke-width="1.5"/>
<circle cx="821.75" cy="455" r="3.5" fill="#fff" stroke="#1a1833" stroke-width="1.5"/>
<circle cx="824.25" cy="464.5" r="3.5" fill="#fff" stroke="#1a1833" stroke-width="1.5"/>
<circle cx="825.75" cy="470" r="3.5" fill="#fff" stroke="#1a1833" stroke-width="1.5"/>
<circle cx="826.75" cy="488.75" r="3.5" fill="#fff" stroke="#1a1833" stroke-width="1.5"/>
<circle cx="877.5" cy="463.75" r="3.5" fill="#fff" stroke="#1a1833" stroke-width="1.5"/>
<circle cx="875" cy="476.25" r="3.5" fill="#fff" stroke="#1a1833" stroke-width="1.5"/>
<circle cx="872.5" cy="487" r="3.5" fill="#fff" stroke="#1a1833" stroke-width="1.5"/>
<circle cx="875.75" cy="491.25" r="3.5" fill="#fff" stroke="#1a1833" stroke-width="1.5"/>
<circle cx="872.5" cy="508" r="3.5" fill="#fff" stroke="#1a1833" stroke-width="1.5"/>
<circle cx="875.75" cy="508.75" r="3.5" fill="#fff" stroke="#1a1833" stroke-width="1.5"/>
<circle cx="926.25" cy="492" r="3.5" fill="#fff" stroke="#1a1833" stroke-width="1.5"/>
<circle cx="922" cy="494.5" r="3.5" fill="#fff" stroke="#1a1833" stroke-width="1.5"/>
<circle cx="923.25" cy="503.75" r="3.5" fill="#fff" stroke="#1a1833" stroke-width="1.5"/>
<circle cx="927.5" cy="510" r="3.5" fill="#fff" stroke="#1a1833" stroke-width="1.5"/>
<circle cx="922" cy="515" r="3.5" fill="#fff" stroke="#1a1833" stroke-width="1.5"/>
<circle cx="926.25" cy="522" r="3.5" fill="#fff" stroke="#1a1833" stroke-width="1.5"/>
<line x1="831.3" y1="384.5" x2="930" y2="384.5" stroke="#3a3a44" stroke-width="1.4"/>
<text x="885.5" y="388.8" font-size="30.5" text-anchor="middle" font-weight="normal" fill="#111" letter-spacing="2" stroke="#111" stroke-width="0.35">***</text>
<line x1="831.3" y1="423.3" x2="880" y2="423.3" stroke="#3a3a44" stroke-width="1.4"/>
<text x="859.5" y="423.8" font-size="30.5" text-anchor="middle" font-weight="normal" fill="#111" letter-spacing="2" stroke="#111" stroke-width="0.35">**</text>
<text x="809.3" y="593.8" font-size="23.3" text-anchor="start" font-weight="normal" fill="#111" >+ 0.75 mM</text>
<text x="809" y="618" font-size="23.3" text-anchor="start" font-weight="normal" fill="#111" >Palmitate</text>
<rect x="812.3" y="632.4" width="24.700000000000045" height="82.39999999999998" fill="#f3f3f7"/>
<line x1="824.5" y1="632.9" x2="824.5" y2="656.9" stroke="#1a1833" stroke-width="1.3"/>
<rect x="813.8" y="637.4" width="21.700000000000045" height="15.0" fill="#1E88E2" stroke="#1f1a2a" stroke-width="1.1"/>
<line x1="813.8" y1="644.9" x2="835.5" y2="644.9" stroke="#1f1a2a" stroke-width="1.8"/>
<text transform="translate(846,650.6) scale(0.955,1)" font-size="22.41" fill="#111">DMSO</text>
<line x1="824.5" y1="661.0" x2="824.5" y2="685.3" stroke="#1a1833" stroke-width="1.3"/>
<rect x="813.8" y="665.5" width="21.700000000000045" height="15.299999999999955" fill="#F03D08" stroke="#1f1a2a" stroke-width="1.1"/>
<line x1="813.8" y1="673.15" x2="835.5" y2="673.15" stroke="#1f1a2a" stroke-width="1.8"/>
<text transform="translate(846,678.6) scale(0.955,1)" font-size="22.41" fill="#111">TLC−065</text>
<line x1="824.5" y1="690.2" x2="824.5" y2="714.3" stroke="#1a1833" stroke-width="1.3"/>
<rect x="813.8" y="694.7" width="21.700000000000045" height="15.099999999999909" fill="#EFCB0C" stroke="#1f1a2a" stroke-width="1.1"/>
<line x1="813.8" y1="702.25" x2="835.5" y2="702.25" stroke="#1f1a2a" stroke-width="1.8"/>
<text transform="translate(846,706.6) scale(0.955,1)" font-size="22.41" fill="#111">NR</text>
<g fill="none" stroke="#33283f" stroke-width="2.6" stroke-linecap="square" stroke-linejoin="miter" opacity="0.92">
<path transform="translate(999.4,682.6)" d="M6 1V8 M2 4V9H10V4 M2 13H10V17H2V24H12 M15 3V15Q15 22 12.5 25.5 M15 3H22V23H26V20"/>
<path transform="translate(1027.0,682.6)" d="M1 4H25 M8 1V7 M18 1V7 M3 10.5H23 M7 12.5L9 15.5 M19 12.5L17 15.5 M1 18H25 M13 7.5V26 M13 18L2 25.5 M13 18L24 25.5"/>
<path transform="translate(1054.6,682.6)" d="M1 4H25 M8 1V7 M18 1V7 M5 17V10.5H21V17 M1 17.5H25 M13 7.5V17 M13 17.5L2 26 M13 17.5L24 26"/>
<path transform="translate(1082.2,682.6)" d="M1 4H25 M8 1V7 M18 1V7 M7 8L3 13.5H8L2 20.5L10 19 M1 25.5L10 23.5 M16.5 8L13.5 14 M15.5 11.5H24.5V24Q24.5 26 21 25.5 M17.5 16L19.5 19.5"/>
<path transform="translate(1109.8,682.6)" d="M3 1L5.5 3.5 M2 6V26 M8 3H24.5V24.5Q24.5 26.5 21 26 M6 8.5H21 M9.5 8.5V21 M17.5 8.5V24.5 M9.5 12.5H17.5 M9.5 16.5H17.5 M5.5 21H21"/>
</g>
<g fill="none" stroke="#ffffff" stroke-width="2.7" stroke-linecap="square" stroke-linejoin="miter" opacity="1">
<path transform="translate(998.0,681.3)" d="M6 1V8 M2 4V9H10V4 M2 13H10V17H2V24H12 M15 3V15Q15 22 12.5 25.5 M15 3H22V23H26V20"/>
<path transform="translate(1025.6,681.3)" d="M1 4H25 M8 1V7 M18 1V7 M3 10.5H23 M7 12.5L9 15.5 M19 12.5L17 15.5 M1 18H25 M13 7.5V26 M13 18L2 25.5 M13 18L24 25.5"/>
<path transform="translate(1053.2,681.3)" d="M1 4H25 M8 1V7 M18 1V7 M5 17V10.5H21V17 M1 17.5H25 M13 7.5V17 M13 17.5L2 26 M13 17.5L24 26"/>
<path transform="translate(1080.8,681.3)" d="M1 4H25 M8 1V7 M18 1V7 M7 8L3 13.5H8L2 20.5L10 19 M1 25.5L10 23.5 M16.5 8L13.5 14 M15.5 11.5H24.5V24Q24.5 26 21 25.5 M17.5 16L19.5 19.5"/>
<path transform="translate(1108.4,681.3)" d="M3 1L5.5 3.5 M2 6V26 M8 3H24.5V24.5Q24.5 26.5 21 26 M6 8.5H21 M9.5 8.5V21 M17.5 8.5V24.5 M9.5 12.5H17.5 M9.5 16.5H17.5 M5.5 21H21"/>
</g>
<g fill="none" stroke="#55505f" stroke-width="1.1" opacity="0.75" stroke-linecap="round"><path d="M963.3 688.3 Q952.5 692 952.3 704.5 Q955.5 712 966 714.3"/><path d="M944.2 704.6H952.2"/><path d="M936.8 696.5L941.5 701.6"/><path d="M962.6 694.3L961.4 696.6"/><path d="M973 694L974.6 696.5"/><path d="M957.5 684.8L959 683L960.8 685"/><path d="M976.8 714.3L977.6 714.8"/><path d="M940.6 706.4L941.2 706.4"/><path d="M980.5 706L981 707.5"/></g>
</svg></body></html>
